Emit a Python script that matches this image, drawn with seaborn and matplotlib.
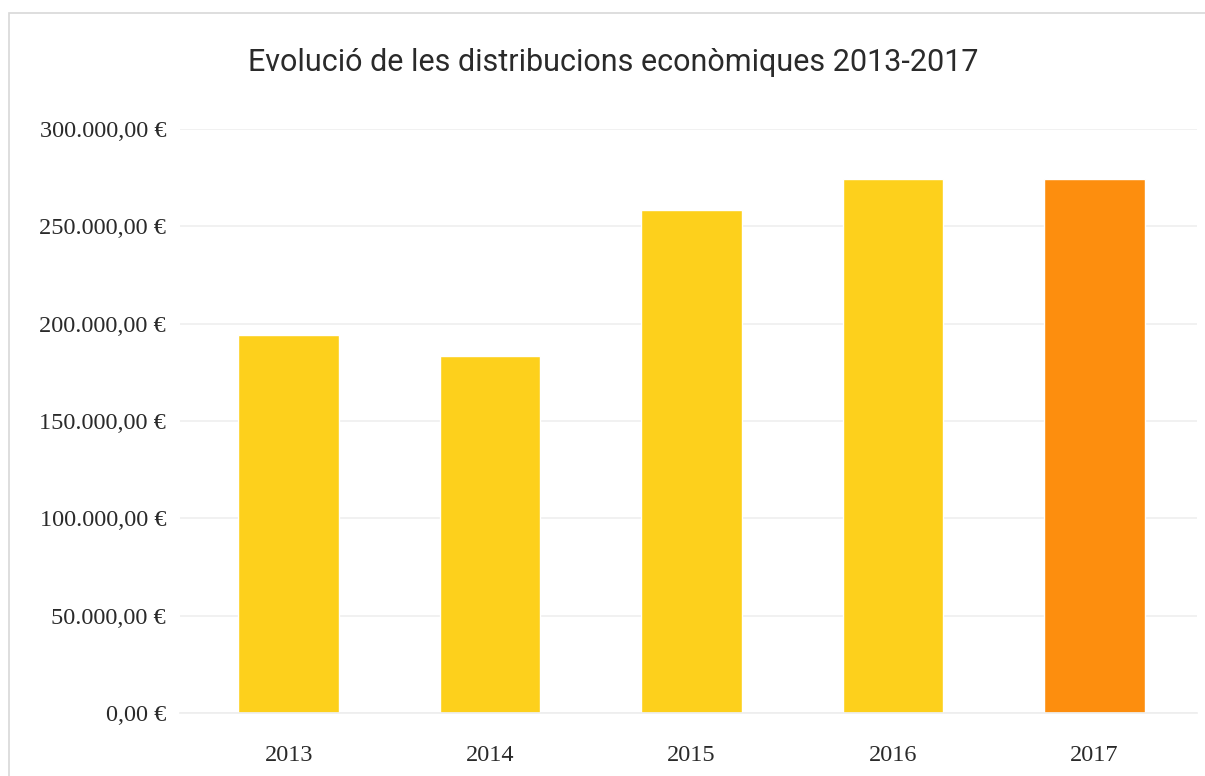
import matplotlib
matplotlib.use("Agg")
import matplotlib.pyplot as plt
from matplotlib.patches import Rectangle
from matplotlib.ticker import FuncFormatter
import seaborn as sns
import pandas as pd

years = ["2013", "2014", "2015", "2016", "2017"]
amounts = [194000, 183500, 258500, 274500, 274500]
bar_colors = ["#fdd01c", "#fdd01c", "#fdd01c", "#fdd01c", "#fd8e0e"]
y_ticks = [0, 50000, 100000, 150000, 200000, 250000, 300000]
title = "Evolució de les distribucions econòmiques 2013-2017"

sns.set_theme(style="white")


def euro(v, pos=None):
    s = f"{v:,.2f}"
    s = s.replace(",", "X").replace(".", ",").replace("X", ".")
    return s + " €"


df = pd.DataFrame({"year": years, "amount": amounts})

fig = plt.figure(figsize=(12.05, 7.76), dpi=100)
fig.patch.set_facecolor("white")
ax = fig.add_axes([180 / 1205, 63 / 776, 1017 / 1205, 584 / 776])

sns.barplot(data=df, x="year", y="amount", hue="year", palette=bar_colors,
            legend=False, width=0.5, saturation=1, ax=ax)

ax.set_ylim(0, 300000)
ax.set_yticks(y_ticks)
ax.yaxis.set_major_formatter(FuncFormatter(euro))
ax.set_xlim(-0.54, 4.51)
ax.set_xlabel("")
ax.set_ylabel("")
ax.grid(axis="y", color="#efefef", linewidth=1.2)
ax.set_axisbelow(True)
for side in ["top", "right", "left"]:
    ax.spines[side].set_visible(False)
ax.spines["bottom"].set_color("#eeeeee")
ax.tick_params(axis="both", length=0, colors="#2a2a2a")
for lab in ax.get_yticklabels() + ax.get_xticklabels():
    lab.set_fontfamily("Liberation Serif")
    lab.set_fontsize(17.5)
ax.tick_params(axis="y", pad=10)
ax.tick_params(axis="x", pad=23)

fig.text(0.509, 0.919, title, ha="center", va="center", fontsize=22,
         color="#2a2a2a", family=["Roboto", "DejaVu Sans"])

fig.patches.append(Rectangle((9 / 1205, -0.05), 1.2, 1 - 13 / 776 + 0.05,
                             transform=fig.transFigure, fill=False,
                             edgecolor="#d8d8d8", linewidth=1.2))

fig.savefig("out.png", dpi=100)
